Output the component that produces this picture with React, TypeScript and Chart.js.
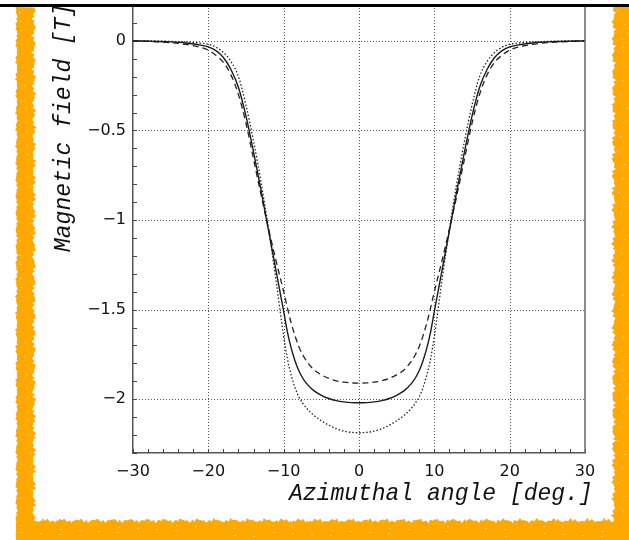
import React, { useEffect, useRef } from "react";
import { Chart, registerables } from "chart.js";

Chart.register(...registerables);

// Azimuthal angle (deg.)
const angles = [
  -30, -27, -25, -23, -21, -20, -19, -18, -17, -16, -15, -14, -13, -12, -11, -10,
  -9.5, -9, -8.5, -8, -7.5, -7, -6, -5, -4, -3, -2, -1, 0,
  1, 2, 3, 4, 5, 6, 7, 7.5, 8, 8.5, 9, 9.5,
  10, 11, 12, 13, 14, 15, 16, 17, 18, 19, 20, 21, 23, 25, 27, 30,
];

// Magnetic field (T) – solid curve
const fieldSolid = [
  0, -0.003, -0.006, -0.012, -0.024, -0.034, -0.055, -0.093, -0.16, -0.26, -0.42, -0.62, -0.835, -1.06, -1.285, -1.51,
  -1.625, -1.715, -1.785, -1.84, -1.88, -1.91, -1.952, -1.978, -1.996, -2.008, -2.015, -2.019, -2.02,
  -2.019, -2.015, -2.008, -1.996, -1.978, -1.952, -1.91, -1.88, -1.84, -1.785, -1.715, -1.625,
  -1.51, -1.285, -1.06, -0.835, -0.62, -0.42, -0.26, -0.16, -0.093, -0.055, -0.034, -0.024, -0.012, -0.006, -0.003, 0,
];

// Magnetic field (T) – dashed curve
const fieldDashed = [
  0, -0.005, -0.01, -0.02, -0.037, -0.052, -0.08, -0.12, -0.19, -0.3, -0.46, -0.66, -0.86, -1.05, -1.23, -1.4,
  -1.49, -1.575, -1.645, -1.705, -1.75, -1.785, -1.835, -1.864, -1.884, -1.897, -1.905, -1.909, -1.91,
  -1.909, -1.905, -1.897, -1.884, -1.864, -1.835, -1.785, -1.75, -1.705, -1.645, -1.575, -1.49,
  -1.4, -1.23, -1.05, -0.86, -0.66, -0.46, -0.3, -0.19, -0.12, -0.08, -0.052, -0.037, -0.02, -0.01, -0.005, 0,
];

// Magnetic field (T) – dotted curve
const fieldDotted = [
  0, -0.001, -0.003, -0.007, -0.013, -0.019, -0.035, -0.065, -0.115, -0.2, -0.36, -0.56, -0.79, -1.05, -1.34, -1.65,
  -1.775, -1.865, -1.935, -1.985, -2.02, -2.048, -2.09, -2.12, -2.145, -2.165, -2.178, -2.185, -2.187,
  -2.185, -2.178, -2.165, -2.145, -2.12, -2.09, -2.048, -2.02, -1.985, -1.935, -1.865, -1.775,
  -1.65, -1.34, -1.05, -0.79, -0.56, -0.36, -0.2, -0.115, -0.065, -0.035, -0.019, -0.013, -0.007, -0.003, -0.001, 0,
];

const xTickValues = [-30, -20, -10, 0, 10, 20, 30];
const xTickLabels = ["\u221230", "\u221220", "\u221210", "0", "10", "20", "30"];
const yTickValues = [-2, -1.5, -1, -0.5, 0];
const yTickLabels = ["\u22122", "\u22121.5", "\u22121", "\u22120.5", "0"];
const xMinorTicks = [-30, -28, -26, -24, -22, -20, -18, -16, -14, -12, -10, -8, -6, -4, -2, 0, 2, 4, 6, 8, 10, 12, 14, 16, 18, 20, 22, 24, 26, 28, 30];
const yMinorTicks = [0.2, 0.1, 0, -0.1, -0.2, -0.3, -0.4, -0.5, -0.6, -0.7, -0.8, -0.9, -1, -1.1, -1.2, -1.3, -1.4, -1.5, -1.6, -1.7, -1.8, -1.9, -2, -2.1, -2.2, -2.3];
const xTitle = "Azimuthal angle [deg.]";
const yTitle = "Magnetic field [T]";

const ORANGE = "#FFA800";

function jag(t: number, s: number) {
  return (
    1.1 * Math.sin(t * 0.37 + s) +
    0.9 * Math.sin(t * 1.13 + s * 2.1) +
    0.7 * Math.sin(t * 2.71 + s * 3.3) +
    0.5 * Math.sin(t * 6.07 + s * 1.7)
  );
}

const decoPlugin = {
  id: "deco",
  beforeDatasetsDraw(chart: any) {
    const { ctx, chartArea: a, scales } = chart;
    const x = scales.x;
    const y = scales.y;
    ctx.save();
    ctx.strokeStyle = "#555";
    ctx.lineWidth = 1;
    ctx.setLineDash([1, 2]);
    for (const v of xTickValues) {
      const px = Math.round(x.getPixelForValue(v)) + 0.5;
      if (px <= a.left + 1 || px >= a.right - 1) continue;
      ctx.beginPath();
      ctx.moveTo(px, a.top);
      ctx.lineTo(px, a.bottom);
      ctx.stroke();
    }
    for (const v of yTickValues) {
      const py = Math.round(y.getPixelForValue(v)) + 0.5;
      ctx.beginPath();
      ctx.moveTo(a.left, py);
      ctx.lineTo(a.right, py);
      ctx.stroke();
    }
    ctx.setLineDash([]);
    ctx.strokeStyle = "#444";
    for (const v of xMinorTicks) {
      const px = Math.round(x.getPixelForValue(v)) + 0.5;
      ctx.beginPath();
      ctx.moveTo(px, a.bottom);
      ctx.lineTo(px, a.bottom - 4);
      ctx.stroke();
    }
    for (const v of yMinorTicks) {
      const py = Math.round(y.getPixelForValue(v)) + 0.5;
      ctx.beginPath();
      ctx.moveTo(a.left, py);
      ctx.lineTo(a.left + 4, py);
      ctx.stroke();
    }
    ctx.restore();
  },
  afterDraw(chart: any) {
    const { ctx, chartArea: a, width, height } = chart;
    ctx.save();
    // right border
    ctx.strokeStyle = "#666";
    ctx.lineWidth = 1.5;
    ctx.beginPath();
    ctx.moveTo(a.right, a.top);
    ctx.lineTo(a.right, a.bottom);
    ctx.stroke();

    // axis titles
    ctx.fillStyle = "#111";
    ctx.font = 'italic 23px "Liberation Mono", "DejaVu Sans Mono", monospace';
    ctx.textAlign = "left";
    ctx.textBaseline = "alphabetic";
    ctx.fillText(xTitle, 289, 500);
    ctx.save();
    ctx.translate(70, 252);
    ctx.rotate(-Math.PI / 2);
    ctx.fillText(yTitle, 0, 0);
    ctx.restore();

    // orange rough frame
    ctx.fillStyle = ORANGE;
    // left band
    ctx.beginPath();
    for (let t = 7; t <= height; t += 1.5) ctx.lineTo(16.5 + jag(t, 1.3) * 0.6, t);
    for (let t = height; t >= 7; t -= 1.5) ctx.lineTo(34 + jag(t, 4.1), t);
    ctx.closePath();
    ctx.fill();
    // right band
    ctx.beginPath();
    ctx.moveTo(width, 7);
    for (let t = 7; t <= height; t += 1.5) ctx.lineTo(613.5 + jag(t, 2.7), t);
    ctx.lineTo(width, height);
    ctx.closePath();
    ctx.fill();
    // bottom band
    ctx.beginPath();
    ctx.moveTo(16, height);
    for (let t = 16; t <= width; t += 1.5) ctx.lineTo(t, 520.5 + jag(t, 0.6));
    ctx.lineTo(width, height);
    ctx.closePath();
    ctx.fill();
    // light specks for texture
    ctx.fillStyle = "rgba(255,255,255,0.45)";
    for (let i = 0; i < 45; i++) {
      ctx.fillRect(19 + ((i * 37) % 13), 12 + ((i * 211) % 500), 1.5, 1);
      ctx.fillRect(617 + ((i * 29) % 10), 10 + ((i * 173) % 505), 1.5, 1);
      ctx.fillRect(20 + ((i * 271) % 600), 525 + ((i * 13) % 12), 2, 1);
    }

    // top black line
    ctx.fillStyle = "#000";
    ctx.fillRect(0, 4, width, 3);
    ctx.restore();
  },
};

export default function App() {
  const canvasRef = useRef<HTMLCanvasElement | null>(null);

  useEffect(() => {
    const canvas = canvasRef.current;
    if (!canvas) return;
    const mk = (vals: number[]) => angles.map((a, i) => ({ x: a, y: vals[i] }));
    const tickFont = { family: '"DejaVu Sans", sans-serif', size: 16 };
    const chart = new Chart(canvas, {
      type: "line",
      data: {
        datasets: [
          {
            label: "solid",
            data: mk(fieldSolid),
            borderColor: "#1a1a1a",
            borderWidth: 1.4,
            pointRadius: 0,
            cubicInterpolationMode: "monotone",
            fill: false,
          },
          {
            label: "dashed",
            data: mk(fieldDashed),
            borderColor: "#222",
            borderWidth: 1.3,
            borderDash: [6, 4],
            pointRadius: 0,
            cubicInterpolationMode: "monotone",
            fill: false,
          },
          {
            label: "dotted",
            data: mk(fieldDotted),
            borderColor: "#222",
            borderWidth: 1.3,
            borderDash: [1.5, 2],
            pointRadius: 0,
            cubicInterpolationMode: "monotone",
            fill: false,
          },
        ],
      },
      options: {
        animation: false,
        responsive: false,
        maintainAspectRatio: false,
        devicePixelRatio: 1,
        layout: { padding: { left: 0, right: 44, top: 5, bottom: 0 } },
        plugins: { legend: { display: false }, tooltip: { enabled: false }, title: { display: false } },
        scales: {
          x: {
            type: "linear",
            min: -30,
            max: 30,
            afterBuildTicks: (s: any) => {
              s.ticks = xTickValues.map((v) => ({ value: v }));
            },
            afterFit: (s: any) => {
              s.height = 87;
              s.paddingLeft = 0;
              s.paddingRight = 0;
            },
            ticks: {
              font: tickFont,
              color: "#111",
              padding: 9,
              maxRotation: 0,
              autoSkip: false,
              callback: (v: any) => {
                const i = xTickValues.indexOf(Number(v));
                return i >= 0 ? xTickLabels[i] : "";
              },
            },
            grid: { display: false, drawTicks: false },
            border: { display: true, color: "#555", width: 1.5 },
          },
          y: {
            type: "linear",
            min: -2.3,
            max: 0.2,
            afterBuildTicks: (s: any) => {
              s.ticks = yTickValues.map((v) => ({ value: v }));
            },
            afterFit: (s: any) => {
              s.width = 133;
              s.paddingTop = 0;
              s.paddingBottom = 0;
            },
            ticks: {
              font: tickFont,
              color: "#111",
              padding: 7,
              autoSkip: false,
              callback: (v: any) => {
                const i = yTickValues.indexOf(Number(v));
                return i >= 0 ? yTickLabels[i] : "";
              },
            },
            grid: { display: false, drawTicks: false },
            border: { display: true, color: "#555", width: 1.5 },
          },
        },
      } as any,
      plugins: [decoPlugin],
    });
    return () => chart.destroy();
  }, []);

  return (
    <div style={{ position: "absolute", left: 0, top: 0, width: 629, height: 540, background: "#fff" }}>
      <canvas ref={canvasRef} width={629} height={540} style={{ display: "block", width: 629, height: 540 }} />
    </div>
  );
}
